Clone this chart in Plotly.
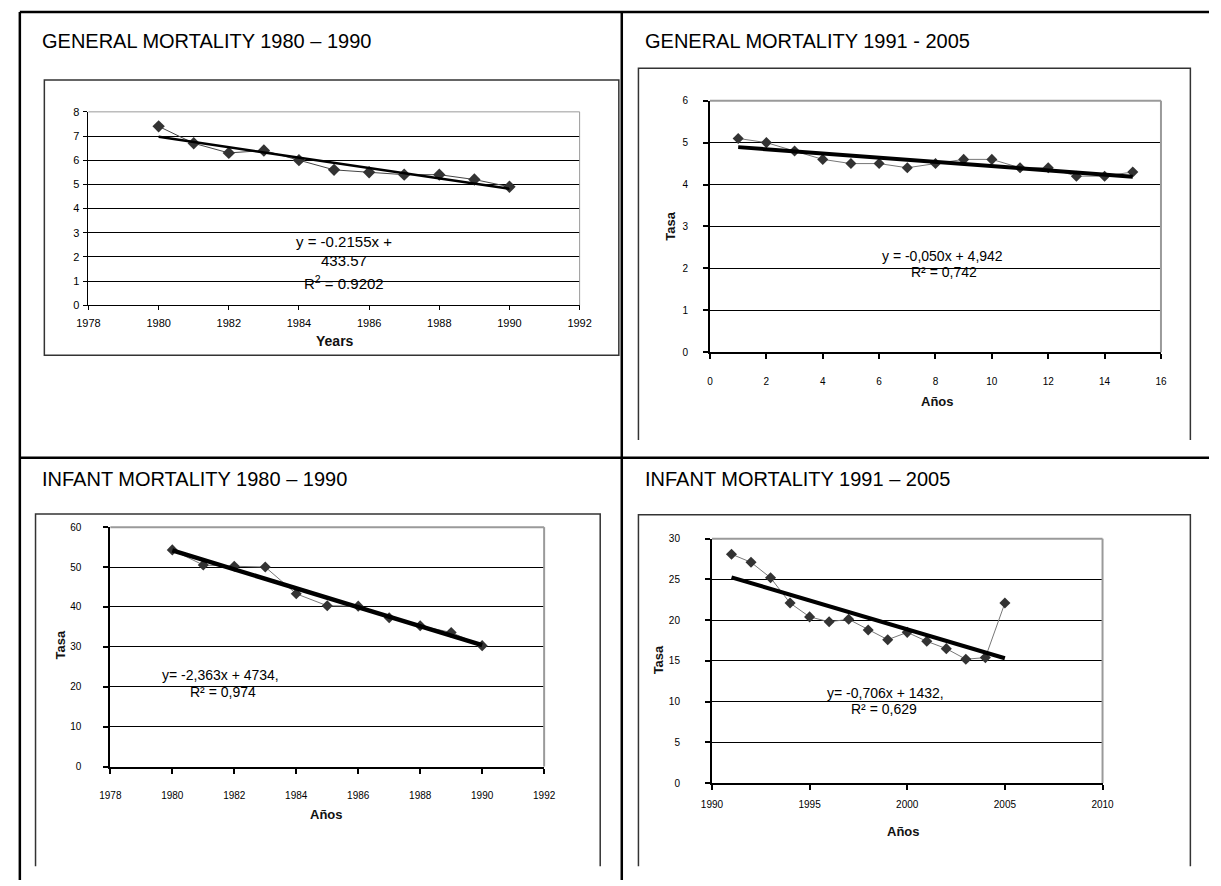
import numpy as np
import plotly.graph_objects as go

W, H = 1221, 886

# ---------------- data ----------------
gen80_years = [1980, 1981, 1982, 1983, 1984, 1985, 1986, 1987, 1988, 1989, 1990]
gen80_rate = [7.4, 6.7, 6.3, 6.4, 6.0, 5.6, 5.5, 5.4, 5.4, 5.2, 4.9]

gen91_index = [1, 2, 3, 4, 5, 6, 7, 8, 9, 10, 11, 12, 13, 14, 15]
gen91_rate = [5.1, 5.0, 4.8, 4.6, 4.5, 4.5, 4.4, 4.5, 4.6, 4.6, 4.4, 4.4, 4.2, 4.2, 4.3]

inf80_years = [1980, 1981, 1982, 1983, 1984, 1985, 1986, 1987, 1988, 1989, 1990]
inf80_rate = [54.3, 50.5, 50.2, 50.0, 43.3, 40.3, 40.2, 37.3, 35.3, 33.6, 30.3]

inf91_years = [1991, 1992, 1993, 1994, 1995, 1996, 1997, 1998, 1999, 2000, 2001, 2002, 2003, 2004, 2005]
inf91_rate = [28.1, 27.1, 25.2, 22.1, 20.4, 19.8, 20.1, 18.8, 17.6, 18.5, 17.4, 16.5, 15.2, 15.4, 22.1]

panel_titles = ["GENERAL MORTALITY 1980 \u2013 1990", "GENERAL MORTALITY 1991 - 2005",
                "INFANT MORTALITY 1980 \u2013 1990", "INFANT MORTALITY 1991 \u2013 2005"]
equation_lines = [["y = -0.2155x +", "433.57", "R<sup>2</sup> = 0.9202"],
                  ["y = -0,050x + 4,942", "R\u00b2 = 0,742"],
                  ["y= -2,363x + 4734,", "R\u00b2 = 0,974"],
                  ["y= -0,706x + 1432,", "R\u00b2 = 0,629"]]
x_titles = ["Years", "A\u00f1os", "A\u00f1os", "A\u00f1os"]
y_titles = [None, "Tasa", "Tasa", "Tasa"]
x_ranges = [[1978, 1992], [0, 16], [1978, 1992], [1990, 2010]]
x_dticks = [2, 2, 2, 5]
y_ranges = [[0, 8], [0, 6], [0, 60], [0, 30]]
y_dticks = [1, 1, 10, 5]

series_x = [gen80_years, gen91_index, inf80_years, inf91_years]
series_y = [gen80_rate, gen91_rate, inf80_rate, inf91_rate]

# ---------------- layout geometry (pixels) ----------------
def px(x):
    return x / W

def py(y):
    return 1 - y / H

FONT = "Arial, Liberation Sans, sans-serif"

# plot rects: left, right, top, bottom
plot_rects = [(78, 579, 107.3, 303.3), (712, 1172, 96, 351),
              (100.3, 542.8, 528.3, 771), (714, 1112.4, 540, 787.7)]
styles = [
    dict(lw=1, gw=1, tickfs=11, msize=9.5, conn="#444444", tw=2.5, bw=1, eqfs=15,
         xstand=4, ystand=2, ticklen=4),
    dict(lw=2, gw=1.3, tickfs=10, msize=8.5, conn="#777777", tw=4, bw=2, eqfs=14,
         xstand=14, ystand=13, ticklen=5),
    dict(lw=2, gw=1.3, tickfs=10, msize=8.5, conn="#777777", tw=4.5, bw=2, eqfs=14,
         xstand=13, ystand=20, ticklen=5),
    dict(lw=2, gw=1.3, tickfs=10, msize=8.5, conn="#777777", tw=4, bw=2, eqfs=14,
         xstand=6, ystand=23, ticklen=5),
]
title_pos = [(29, 35), (644, 35), (29, 479), (644, 479)]
eq_pos = [[(339, 238.3), (339, 258.3), (339, 280)],
          [(949, 253.3), (951, 270)],
          [(213, 677.7), (215, 695.7)],
          [(890.8, 696), (889.7, 712.3)]]
xtitle_pos = [(329, 339.3), (944, 400.7), (320.4, 819.3), (909, 836.7)]
ytitle_pos = [None, (672, 223), (49, 648.3), (659, 663.3)]

fig = go.Figure()
shapes = []
annotations = []
layout_axes = {}

for i in range(4):
    n = i + 1
    xa = "x" if n == 1 else f"x{n}"
    ya = "y" if n == 1 else f"y{n}"
    xkey = "xaxis" if n == 1 else f"xaxis{n}"
    ykey = "yaxis" if n == 1 else f"yaxis{n}"
    st = styles[i]
    l, r, t, b = plot_rects[i]

    xs, ys = series_x[i], series_y[i]
    fig.add_trace(go.Scatter(
        x=xs, y=ys, mode="lines+markers", xaxis=xa, yaxis=ya,
        line=dict(color=st["conn"], width=1),
        marker=dict(symbol="diamond", size=st["msize"], color="#333333"),
        showlegend=False, hoverinfo="skip"))
    slope, icpt = np.polyfit(xs, ys, 1)
    xt = [xs[0], xs[-1]]
    fig.add_trace(go.Scatter(
        x=xt, y=[slope * v + icpt for v in xt], mode="lines", xaxis=xa, yaxis=ya,
        line=dict(color="black", width=st["tw"]), showlegend=False, hoverinfo="skip"))

    layout_axes[xkey] = dict(
        domain=[px(l), px(r)], anchor=ya, range=x_ranges[i], dtick=x_dticks[i], tick0=0,
        showgrid=False, zeroline=False, showline=True, linecolor="black", linewidth=st["lw"],
        ticks="outside", ticklen=st["ticklen"], tickcolor="black", tickwidth=st["lw"],
        tickfont=dict(family=FONT, size=st["tickfs"], color="black"),
        ticklabelstandoff=st["xstand"], fixedrange=True)
    layout_axes[ykey] = dict(
        domain=[py(b), py(t)], anchor=xa, range=y_ranges[i], dtick=y_dticks[i], tick0=0,
        showgrid=True, gridcolor="black", gridwidth=st["gw"], zeroline=False,
        showline=True, linecolor="black", linewidth=st["lw"],
        ticks="outside", ticklen=st["ticklen"], tickcolor="black", tickwidth=st["lw"],
        tickfont=dict(family=FONT, size=st["tickfs"], color="black"),
        ticklabelstandoff=st["ystand"], fixedrange=True)

    # gray top / right plot-area border
    shapes.append(dict(type="line", xref=f"{xa} domain", yref=f"{ya} domain",
                       x0=0, x1=1, y0=1, y1=1, line=dict(color="#9a9a9a", width=st["bw"]), layer="above"))
    shapes.append(dict(type="line", xref=f"{xa} domain", yref=f"{ya} domain",
                       x0=1, x1=1, y0=0, y1=1, line=dict(color="#9a9a9a", width=st["bw"]), layer="above"))

    # panel title
    tx, ty = title_pos[i]
    annotations.append(dict(text=panel_titles[i], xref="paper", yref="paper", x=px(tx), y=py(ty),
                            xanchor="left", yanchor="middle", showarrow=False,
                            font=dict(family=FONT, size=20, color="black")))
    # equation
    for line_txt, (ex, ey) in zip(equation_lines[i], eq_pos[i]):
        annotations.append(dict(text=line_txt, xref="paper", yref="paper", x=px(ex), y=py(ey),
                                xanchor="center", yanchor="middle", showarrow=False,
                                font=dict(family=FONT, size=st["eqfs"], color="black")))
    # axis titles
    ax_, ay_ = xtitle_pos[i]
    annotations.append(dict(text=f"<b>{x_titles[i]}</b>", xref="paper", yref="paper",
                            x=px(ax_), y=py(ay_), xanchor="center", yanchor="middle",
                            showarrow=False, font=dict(family=FONT, size=14 if i == 0 else 13, color="#111111")))
    if y_titles[i]:
        yx, yy = ytitle_pos[i]
        annotations.append(dict(text=f"<b>{y_titles[i]}</b>", xref="paper", yref="paper",
                                x=px(yx), y=py(yy), xanchor="center", yanchor="middle",
                                textangle=-90, showarrow=False,
                                font=dict(family=FONT, size=13, color="#111111")))

# chart-area frames
frame_col = "#333333"
# top-left: full box
shapes.append(dict(type="rect", xref="paper", yref="paper", x0=px(33), x1=px(619), y0=py(354), y1=py(75),
                   line=dict(color=frame_col, width=1.5), fillcolor="rgba(0,0,0,0)", layer="below"))
# open-bottom frames
for (x0, x1, y0, y1) in [(639, 1202, 63, 440), (24, 600, 515, 872), (639, 1202, 515.7, 872)]:
    shapes.append(dict(type="path", xref="paper", yref="paper",
                       path=f"M {px(x0)} {py(y1)} L {px(x0)} {py(y0)} L {px(x1)} {py(y0)} L {px(x1)} {py(y1)}",
                       line=dict(color=frame_col, width=1.5), layer="below"))

# outer table lines
tbl = dict(color="black", width=2.5)
shapes += [
    dict(type="line", xref="paper", yref="paper", x0=px(8), x1=1, y0=py(6), y1=py(6), line=tbl),
    dict(type="line", xref="paper", yref="paper", x0=px(8), x1=px(8), y0=py(6), y1=0, line=tbl),
    dict(type="line", xref="paper", yref="paper", x0=px(622), x1=px(622), y0=py(6), y1=0, line=tbl),
    dict(type="line", xref="paper", yref="paper", x0=px(8), x1=1, y0=py(458), y1=py(458), line=tbl),
]

fig.update_layout(
    width=W, height=H, autosize=False,
    margin=dict(l=0, r=0, t=0, b=0),
    paper_bgcolor="white", plot_bgcolor="white",
    shapes=shapes, annotations=annotations, showlegend=False,
    **layout_axes)

fig.write_html("out.html", config={"displayModeBar": False})
